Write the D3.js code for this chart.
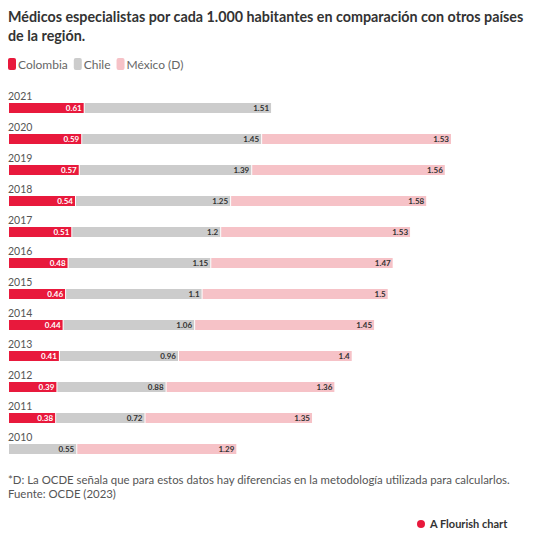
<!DOCTYPE html>
<html><head><meta charset="utf-8">
<script src="https://cdn.jsdelivr.net/npm/d3@7"></script>
<style>body{margin:0;background:#fff;font-family:Lato,"Open Sans",sans-serif;}</style>
</head><body>
<script>
const years = ['2021','2020','2019','2018','2017','2016','2015','2014','2013','2012','2011','2010'];
const colombia = [0.61,0.59,0.57,0.54,0.51,0.48,0.46,0.44,0.41,0.39,0.38,null];
const chile = [1.51,1.45,1.39,1.25,1.2,1.15,1.1,1.06,0.96,0.88,0.72,0.55];
const mexico = [null,1.53,1.56,1.58,1.53,1.47,1.5,1.45,1.4,1.36,1.35,1.29];
const seriesNames = ['Colombia','Chile','México (D)'];
const colors = ['#e8193c','#cccccc','#f6c2c7'];
const labelColors = ['#fff','#333','#333'];

const W = 537, H = 535;
const svg = d3.select('body').append('svg').attr('width', W).attr('height', H);

svg.append('text').attr('x', 8).attr('y', 22).attr('font-size', 14.3).attr('font-weight', 700).attr('fill', '#333')
  .text('Médicos especialistas por cada 1.000 habitantes en comparación con otros países');
svg.append('text').attr('x', 8).attr('y', 41).attr('font-size', 14.3).attr('font-weight', 700).attr('fill', '#333')
  .text('de la región.');

// legend
let lx = 8;
seriesNames.forEach((n, i) => {
  svg.append('rect').attr('x', lx).attr('y', 58).attr('width', 8).attr('height', 12).attr('rx', 2).attr('fill', colors[i]);
  const t = svg.append('text').attr('x', lx + 10).attr('y', 68.5).attr('font-size', 12).attr('fill', '#666').text(n);
  lx += 10 + t.node().getComputedTextLength() + 6;
});

const rows = years.map((y, i) => ({ year: y, vals: [colombia[i], chile[i], mexico[i]] }));
const x = d3.scaleLinear().domain([0, 3.57]).range([9, 452]);
const yScale = d3.scaleBand().domain(years).range([88, 460]);

const g = svg.append('g');
rows.forEach(r => {
  const top = yScale(r.year);
  g.append('text').attr('x', 8).attr('y', top + 12).attr('font-size', 10.5).attr('fill', '#555').text(r.year);
  let acc = 0;
  r.vals.forEach((v, i) => {
    if (v == null) return;
    const x0 = x(acc), x1 = x(acc + v);
    g.append('rect').attr('x', x0).attr('y', top + 15).attr('width', Math.max(0, x1 - x0 - 1)).attr('height', 10).attr('fill', colors[i]);
    g.append('text').attr('x', x1 - 3).attr('y', top + 23.3).attr('text-anchor', 'end')
      .attr('font-size', 8).attr('font-weight', 700).attr('fill', labelColors[i]).text(v);
    acc += v;
  });
});

svg.append('text').attr('x', 8).attr('y', 484).attr('font-size', 11.4).attr('fill', '#555')
  .text('*D: La OCDE señala que para estos datos hay diferencias en la metodología utilizada para calcularlos.');
svg.append('text').attr('x', 8).attr('y', 498).attr('font-size', 11.4).attr('fill', '#555').text('Fuente: OCDE (2023)');

svg.append('circle').attr('cx', 421).attr('cy', 524).attr('r', 4).attr('fill', '#e8193c');
svg.append('text').attr('x', 430).attr('y', 528).attr('font-size', 11).attr('font-weight', 700).attr('fill', '#333').text('A Flourish chart');
</script>
</body></html>
